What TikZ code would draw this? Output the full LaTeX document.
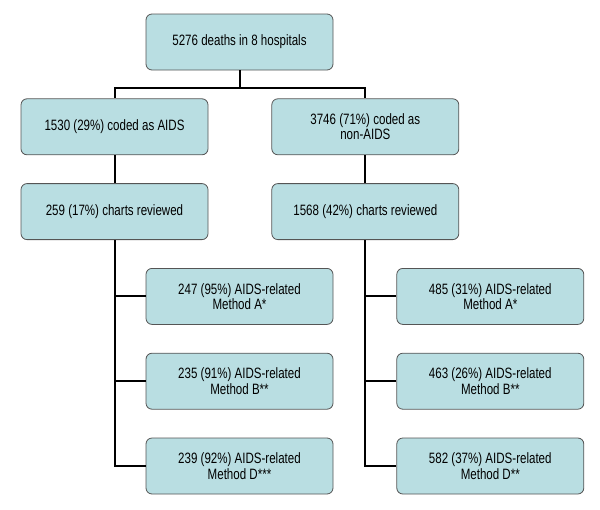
\documentclass[tikz,border=0pt]{standalone}
\usepackage{fontspec}
\setmainfont[FakeStretch=0.77]{Liberation Sans}
\usepackage{xcolor}
\usepackage{tikz}
\usetikzlibrary{positioning}

\definecolor{boxfill}{RGB}{185,222,226}
\definecolor{boxline}{RGB}{85,85,85}

\begin{document}
\begin{tikzpicture}[
        font=\fontsize{15}{15.5}\selectfont,
        node distance=28pt and 63pt,
        every node/.style={align=center},
        stage/.style={
            rectangle, rounded corners=6pt,
            draw=boxline, line width=0.8pt,
            fill=boxfill,
            minimum width=187pt, minimum height=56pt,
            inner sep=2pt
        },
        link/.style={line width=2pt, black}
    ]
    \useasboundingbox (0,0) rectangle (600pt,-509pt);
    \node[stage] (deaths) at (239.5pt,-42pt) {5276 deaths in 8 hospitals};
    \node[stage, below=of deaths, xshift=-125pt] (codA) {1530 (29\%) coded as AIDS};
    \node[stage, right=of codA] (codN) {3746 (71\%) coded as\\non-AIDS};
    \node[stage, below=of codA] (revA) {259 (17\%) charts reviewed};
    \node[stage, below=of codN] (revN) {1568 (42\%) charts reviewed};
    % left branch
    \node[stage, below=of revA, xshift=125pt] (mA1) {247 (95\%) AIDS-related\\Method A*};
    \node[stage, below=of mA1] (mA2) {235 (91\%) AIDS-related\\Method B**};
    \node[stage, below=of mA2] (mA3) {239 (92\%) AIDS-related\\Method D***};
    % right branch
    \node[stage, below=of revN, xshift=125pt] (mN1) {485 (31\%) AIDS-related\\Method A*};
    \node[stage, below=of mN1] (mN2) {463 (26\%) AIDS-related\\Method B**};
    \node[stage, below=of mN2] (mN3) {582 (37\%) AIDS-related\\Method D**};
    \coordinate[below=18pt of deaths.south] (split);
    \draw[link] (deaths.south) -- (split);
    \draw[link] (split) -| (codA.north);
    \draw[link] (split) -| (codN.north);
    \draw[link] (codA) -- (revA);
    \draw[link] (codN) -- (revN);
    \draw[link] (revA.south) |- (mA3.west);
    \draw[link] (revA.south |- mA1.west) -- (mA1.west);
    \draw[link] (revA.south |- mA2.west) -- (mA2.west);
    \draw[link] (revN.south) |- (mN3.west);
    \draw[link] (revN.south |- mN1.west) -- (mN1.west);
    \draw[link] (revN.south |- mN2.west) -- (mN2.west);
\end{tikzpicture}
\end{document}
